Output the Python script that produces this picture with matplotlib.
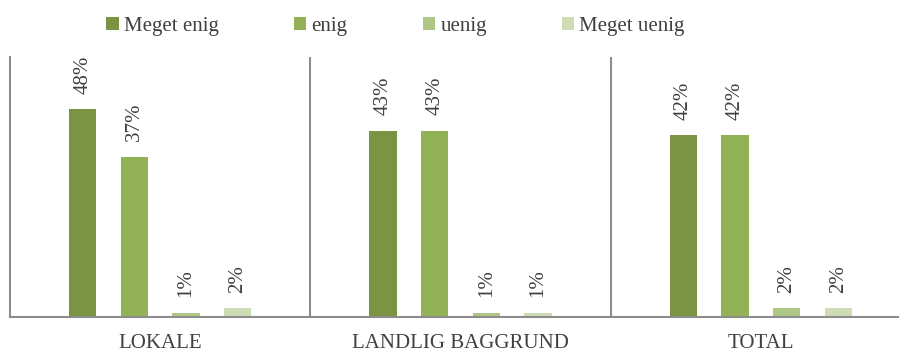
import numpy as np
import matplotlib
matplotlib.use("Agg")
import matplotlib.pyplot as plt

plt.rcParams['font.family'] = ['Liberation Serif', 'DejaVu Serif']

# survey answers per group, in percent
grupper = ["LOKALE", "LANDLIG BAGGRUND", "TOTAL"]
svar = ["Meget enig", "enig", "uenig", "Meget uenig"]
meget_enig = [48, 43, 42]
enig = [37, 43, 42]
uenig = [1, 1, 2]
meget_uenig = [2, 1, 2]
serier = [meget_enig, enig, uenig, meget_uenig]

farver = ['#7A9444', '#93B156', '#AEC785', '#CFDDB7']
tekstfarve = '#404040'
linjefarve = '#8C8C8C'

fig = plt.figure(figsize=(8.99, 3.52), dpi=100)
ax = fig.add_axes([10/899, 35/352, 901/899, 260/352])

x = np.arange(len(grupper))
afstand = 0.172
bredde = 0.09

for i, (navn, vaerdier) in enumerate(zip(svar, serier)):
    pos = x + (i - 1.5) * afstand
    ax.bar(pos, vaerdier, width=bredde, color=farver[i], label=navn)
    for px, v in zip(pos, vaerdier):
        ax.annotate(f"{v}%", (px, v), xytext=(0, 11), textcoords='offset points',
                    rotation=90, ha='center', va='bottom',
                    fontsize=15, color=tekstfarve)

# group separators
for sep in [0.5, 1.5]:
    ax.axvline(sep, color=linjefarve, lw=1.5)

ax.set_xlim(-0.5, 2.5)
ax.set_ylim(0, 60)
ax.set_yticks([])
ax.set_xticks(x)
ax.set_xticklabels(grupper, fontsize=15, color=tekstfarve)
ax.tick_params(axis='x', length=0, pad=12)

for s in ['top', 'right']:
    ax.spines[s].set_visible(False)
for s in ['left', 'bottom']:
    ax.spines[s].set_color(linjefarve)
    ax.spines[s].set_linewidth(1.5)

leg = fig.legend(loc='center', bbox_to_anchor=(0.440, 0.926), ncol=4,
                 frameon=False, fontsize=15, handlelength=0.6, handleheight=0.6,
                 handletextpad=0.25, columnspacing=3.6, labelcolor=tekstfarve)

fig.savefig("out.png", dpi=100)
